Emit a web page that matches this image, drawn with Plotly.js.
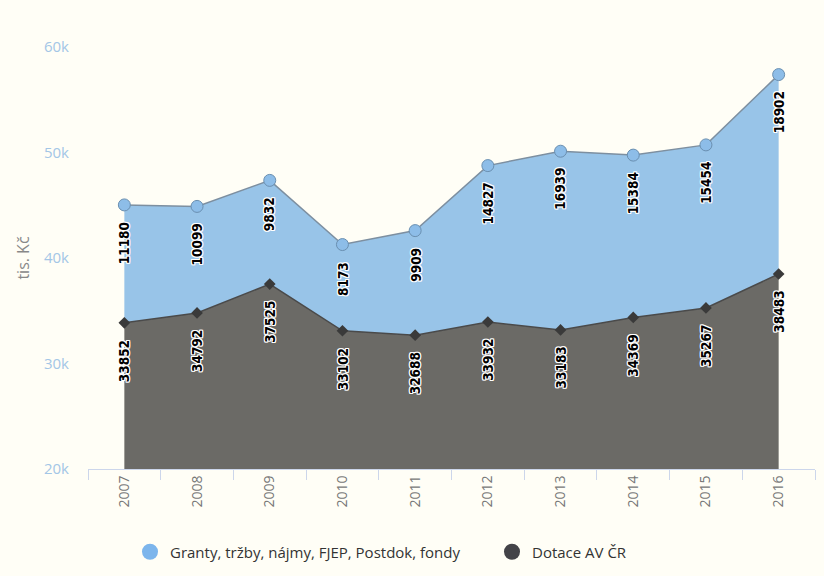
<!DOCTYPE html>
<html>
<head>
<meta charset="utf-8">
<script src="https://cdn.plot.ly/plotly-3.0.1.min.js"></script>
<style>html,body{margin:0;padding:0;background:#fffef6;}#chart{width:824px;height:576px;}#err{position:absolute;top:0;left:0;font:12px monospace;color:red;}</style>
</head>
<body>
<div id="chart"></div>
<div id="err"></div>
<script>
const years = ['2007','2008','2009','2010','2011','2012','2013','2014','2015','2016'];
const dotace = [33852, 34792, 37525, 33102, 32688, 33932, 33183, 34369, 35267, 38483];
const granty = [11180, 10099, 9832, 8173, 9909, 14827, 16939, 15384, 15454, 18902];
const nameGranty = 'Granty, tržby, nájmy, FJEP, Postdok, fondy';
const nameDotace = 'Dotace AV ČR';
const yTickVals = [20000, 30000, 40000, 50000, 60000];

const totals = dotace.map((d, i) => d + granty[i]);

const traces = [
  {
    type: 'scatter', x: years, y: dotace, stackgroup: 'one', name: nameDotace,
    mode: 'lines+markers', showlegend: false, hoverinfo: 'x+y',
    fillcolor: '#6b6a66',
    line: {color: '#4a4a4a', width: 1.5},
    marker: {symbol: 'diamond', size: 9, color: '#3a3a3a'}
  },
  {
    type: 'scatter', x: years, y: granty, stackgroup: 'one', name: nameGranty,
    mode: 'lines+markers', showlegend: false, hoverinfo: 'x+y',
    fillcolor: '#98c4e8',
    line: {color: '#7d8fa0', width: 1.5},
    marker: {symbol: 'circle', size: 12, color: '#8dbde8', line: {color: '#6a8fb0', width: 1}}
  },
  {
    type: 'scatter', x: [null], y: [null], name: nameGranty, mode: 'markers',
    marker: {symbol: 'circle', size: 16, color: '#7cb5ec'}, showlegend: true, legend: 'legend'
  },
  {
    type: 'scatter', x: [null], y: [null], name: nameDotace, mode: 'markers',
    marker: {symbol: 'circle', size: 16, color: '#434348'}, showlegend: true, legend: 'legend2'
  }
];

const labelFamily = 'DejaVu Sans Condensed, DejaVu Sans, sans-serif';
const labelFont = {family: labelFamily, size: 13.5, color: '#000000'};
const haloFont = {family: labelFamily, size: 13.5, color: '#ffffff'};
const haloOffsets = [[-1,-1],[-1,0],[-1,1],[0,-1],[0,1],[1,-1],[1,0],[1,1]];

const annotations = [];
function addLabel(i, yVal, value) {
  const base = {
    x: i, y: yVal, xref: 'x', yref: 'y', text: '<b>' + value + '</b>',
    showarrow: false, textangle: -90, xanchor: 'center', yanchor: 'top'
  };
  haloOffsets.forEach(o => {
    annotations.push(Object.assign({}, base, {xshift: o[0], yshift: -15 + o[1], font: haloFont}));
  });
  annotations.push(Object.assign({}, base, {yshift: -15, font: labelFont}));
}
years.forEach((yr, i) => {
  addLabel(i, totals[i], granty[i]);
  addLabel(i, dotace[i], dotace[i]);
});

const legendFont = {size: 15, color: '#333333', family: 'Open Sans, sans-serif'};

const layout = {
  width: 824, height: 576,
  paper_bgcolor: '#fffef6', plot_bgcolor: '#fffef6',
  margin: {l: 88, r: 9, t: 47, b: 107},
  font: {family: 'Open Sans, sans-serif'},
  xaxis: {
    type: 'category', range: [-0.5, 9.5], tickson: 'boundaries',
    ticks: 'outside', ticklen: 10, tickcolor: '#ccd6eb', tickwidth: 1,
    showline: true, linecolor: '#ccd6eb', linewidth: 1,
    showgrid: false, zeroline: false, tickangle: -90,
    tickfont: {size: 14, color: '#777777', family: 'Open Sans, sans-serif'}
  },
  yaxis: {
    range: [20000, 60000], tickvals: yTickVals, tickformat: '~s',
    showgrid: false, zeroline: false, showline: false, ticks: '',
    ticklabelstandoff: 18,
    tickfont: {size: 15, color: '#a3c6e6', family: 'Open Sans, sans-serif'},
    title: {text: 'tis. Kč', font: {size: 16, color: '#888888', family: 'Open Sans, sans-serif'}, standoff: 10}
  },
  legend: {
    orientation: 'h', xref: 'container', yref: 'container',
    x: 130 / 824, xanchor: 'left', y: 1 - 552 / 576, yanchor: 'middle',
    font: legendFont, bgcolor: 'rgba(0,0,0,0)', itemclick: false
  },
  legend2: {
    orientation: 'h', xref: 'container', yref: 'container',
    x: 492 / 824, xanchor: 'left', y: 1 - 552 / 576, yanchor: 'middle',
    font: legendFont, bgcolor: 'rgba(0,0,0,0)', itemclick: false
  },
  annotations: annotations,
  showlegend: true
};

try {
  Plotly.newPlot('chart', traces, layout, {displayModeBar: false, staticPlot: true})
    .then(() => {
      const n = document.querySelectorAll('.annotation').length;
      if (n === 0) document.getElementById('err').textContent = 'no annotations drawn';
    })
    .catch(e => { document.getElementById('err').textContent = 'ERR ' + e; });
} catch (e) {
  document.getElementById('err').textContent = 'ERR ' + e;
}
</script>
</body>
</html>
